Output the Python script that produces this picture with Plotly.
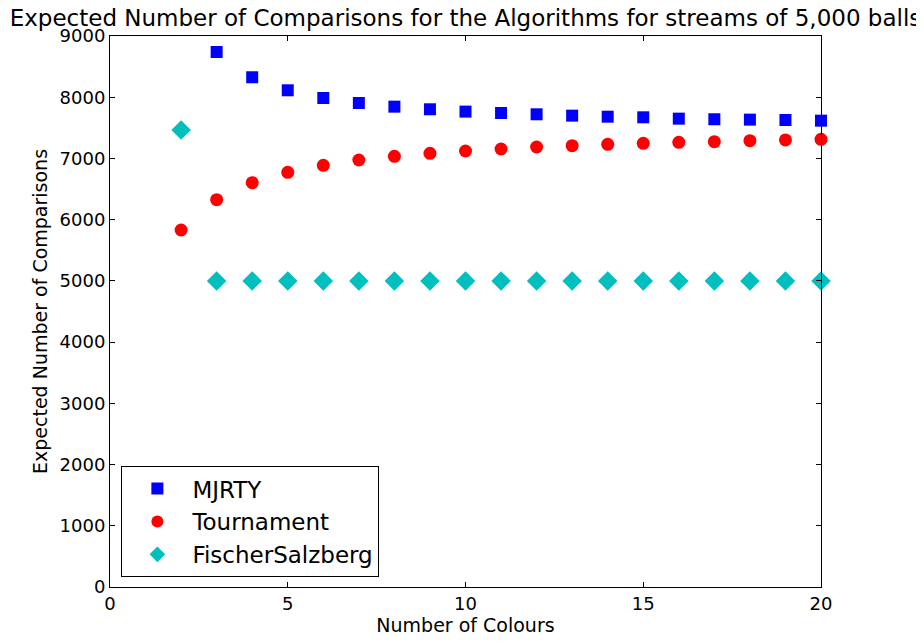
import plotly.graph_objects as go

x_mjrty = list(range(3, 21))
mjrty = [8739, 8326, 8113, 7987, 7906, 7846, 7803, 7765, 7742, 7721, 7699,
         7682, 7672, 7650, 7640, 7634, 7628, 7617]

x_tour = list(range(2, 21))
tournament = [5831, 6327, 6605, 6773, 6888, 6975, 7035, 7084, 7122, 7154, 7187,
              7209, 7231, 7247, 7264, 7274, 7290, 7302, 7313]

x_fs = list(range(2, 21))
fischer = [7465] + [5000] * 18

x_ticks = [0, 5, 10, 15, 20]
y_ticks = list(range(0, 9001, 1000))

FONT = "DejaVu Sans"
W, H = 916, 635
L, R, T, B = 102, 103, 28, 56

fig = go.Figure()
fig.add_trace(go.Scatter(x=x_mjrty, y=mjrty, mode="markers", name="MJRTY",
                         marker=dict(symbol="square", size=12, color="#0000ff",
                                     line=dict(width=0)), cliponaxis=False))
fig.add_trace(go.Scatter(x=x_tour, y=tournament, mode="markers", name="Tournament",
                         marker=dict(symbol="circle", size=13, color="#ff0000",
                                     line=dict(width=0)), cliponaxis=False))
fig.add_trace(go.Scatter(x=x_fs, y=fischer, mode="markers", name="FischerSalzberg",
                         marker=dict(symbol="diamond", size=15, color="#00bfbf",
                                     line=dict(width=0)), cliponaxis=False))

axis_common = dict(showline=True, linecolor="black", linewidth=1, mirror="allticks",
                   ticks="inside", ticklen=5, tickcolor="black", showgrid=False,
                   zeroline=False, tickfont=dict(family=FONT, size=18, color="black"))

fig.update_layout(
    width=W, height=H,
    margin=dict(l=L, r=R, t=T, b=B),
    paper_bgcolor="white", plot_bgcolor="white",
    font=dict(family=FONT, color="black"),
    title=dict(text="Expected Number of Comparisons for the Algorithms for streams of 5,000 balls",
               x=(L + (W - R - L) / 2) / W, xanchor="center", y=0.997, yanchor="top",
               font=dict(family=FONT, size=23, color="black")),
    xaxis=dict(range=[0, 20], tickvals=x_ticks,
               title=dict(text="Number of Colours", font=dict(family=FONT, size=19), standoff=2),
               **axis_common),
    yaxis=dict(range=[0, 9000], tickvals=y_ticks,
               title=dict(text="Expected Number of Comparisons", font=dict(family=FONT, size=19), standoff=6),
               **axis_common),
    legend=dict(x=0.016, y=0.018, xanchor="left", yanchor="bottom",
                bordercolor="black", borderwidth=1, bgcolor="white",
                font=dict(family=FONT, size=23, color="black"),
                itemsizing="constant", itemwidth=60, tracegroupgap=0),
    showlegend=True,
)

fig.write_html("out.html")
